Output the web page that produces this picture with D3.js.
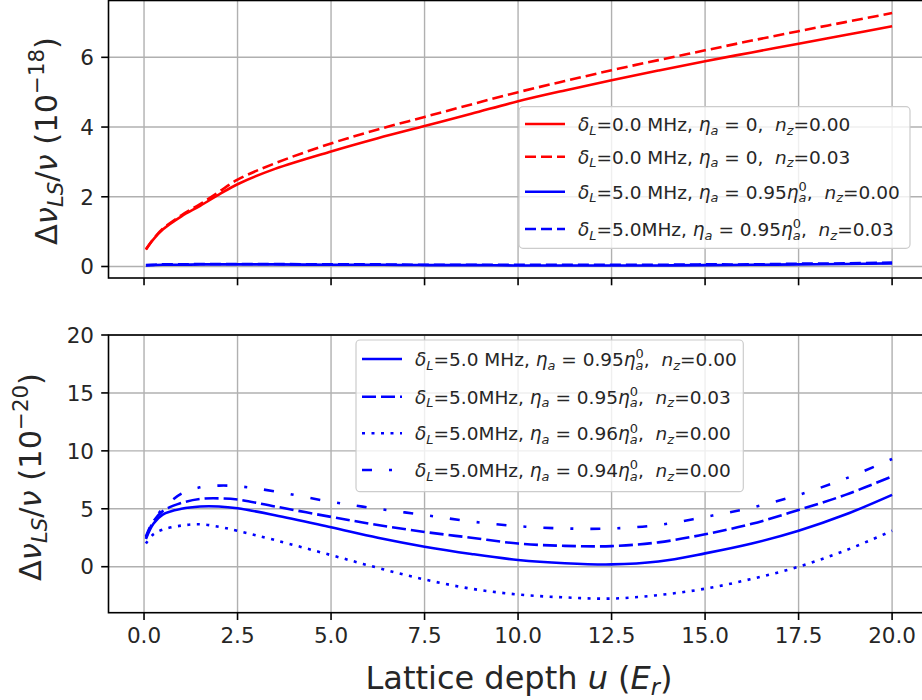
<!DOCTYPE html>
<html><head><meta charset="utf-8">
<script src="https://cdn.jsdelivr.net/npm/d3@7"></script>
<style>body{margin:0;background:#fff;} svg{display:block;font-family:"DejaVu Sans",sans-serif;} text{white-space:pre;}</style>
</head><body><svg id="c" width="922" height="700"></svg>
<script>
// ---- data ----
const uValues = [0.05,0.25,0.5,1,1.5,2,2.5,3.5,5,6.25,7.5,8.75,10,11.25,12.5,13.75,15,16.25,17.5,18.75,20];
// top panel (units 1e-18)
const redSolid  = [0.49,0.78,1.06,1.44,1.74,2.06,2.36,2.80,3.30,3.68,4.03,4.38,4.74,5.05,5.34,5.62,5.89,6.14,6.39,6.64,6.89];
const redDashed = [0.49,0.79,1.08,1.47,1.79,2.14,2.49,2.96,3.53,3.93,4.29,4.65,5.00,5.32,5.63,5.92,6.20,6.48,6.75,7.01,7.27];
const blueSolidTop  = [0.03,0.04,0.05,0.05,0.06,0.06,0.06,0.06,0.05,0.05,0.04,0.04,0.03,0.03,0.03,0.03,0.04,0.05,0.06,0.07,0.09];
const blueDashedTop = [0.04,0.05,0.06,0.06,0.07,0.07,0.07,0.07,0.06,0.06,0.05,0.05,0.05,0.05,0.05,0.05,0.06,0.06,0.08,0.09,0.11];
// bottom panel (units 1e-20)
const b095_nz000 = [2.4,3.7,4.5,5.0,5.2,5.2,5.04,4.45,3.4,2.5,1.73,1.1,0.58,0.3,0.2,0.45,1.15,2.0,3.1,4.5,6.2];
const b095_nz003 = [2.5,3.9,4.8,5.5,5.85,5.9,5.8,5.2,4.3,3.6,3.0,2.5,2.0,1.8,1.78,2.1,2.8,3.7,4.9,6.2,7.8];
const b096_nz000 = [2.0,2.8,3.2,3.55,3.66,3.45,3.1,2.3,1.0,-0.1,-1.1,-1.9,-2.4,-2.65,-2.75,-2.45,-1.9,-1.05,0.0,1.4,3.1];
const b094_nz000 = [2.6,4.0,5.0,6.3,6.85,7.0,6.95,6.5,5.6,5.0,4.46,3.9,3.5,3.3,3.3,3.6,4.3,5.1,6.2,7.6,9.3];
const xTicks = [0,2.5,5,7.5,10,12.5,15,17.5,20];
const xTickLabels = ["0.0","2.5","5.0","7.5","10.0","12.5","15.0","17.5","20.0"];
const yTicksTop = [0,2,4,6];
const yTicksBottom = [0,5,10,15,20];
const topLabels = [
  "$δ_L$=0.0 MHz, $η_a$ = 0,  $n_z$=0.00",
  "$δ_L$=0.0 MHz, $η_a$ = 0,  $n_z$=0.03",
  "$δ_L$=5.0 MHz, $η_a$ = 0.95$η_a^0$,  $n_z$=0.00",
  "$δ_L$=5.0MHz, $η_a$ = 0.95$η_a^0$,  $n_z$=0.03"
];
const bottomLabels = [
  "$δ_L$=5.0 MHz, $η_a$ = 0.95$η_a^0$,  $n_z$=0.00",
  "$δ_L$=5.0MHz, $η_a$ = 0.95$η_a^0$,  $n_z$=0.03",
  "$δ_L$=5.0MHz, $η_a$ = 0.96$η_a^0$,  $n_z$=0.00",
  "$δ_L$=5.0MHz, $η_a$ = 0.94$η_a^0$,  $n_z$=0.00"
];

// ---- layout ----
const svg = d3.select("#c");
const x = d3.scaleLinear().domain([-0.95, 21]).range([108.5, 929.5]);
const yTop = d3.scaleLinear().domain([-0.33, 7.63]).range([278, 0.5]);
const yBot = d3.scaleLinear().domain([-3.97, 20]).range([612.7, 335]);
const RED = "#ff0000", BLUE = "#0000ff", LW = 2.6;
const TICK_FS = 21.5, LEG_FS = 18.5, XLAB_FS = 32, YLAB_FS = 30.5;

// rich text parser: $...$ math mode, _ sub, ^ sup
function rich(sel, str, fs){
  const parts = [];
  let math = false;
  for (let i=0;i<str.length;i++){
    const c = str[i];
    if (c === "$"){ math = !math; continue; }
    if (math && (c === "_" || c === "^")){
      let g = "";
      if (str[i+1] === "{"){ let j=i+2; while(str[j]!=="}"){g+=str[j];j++;} i=j; }
      else { g = str[i+1]; i++; }
      parts.push({t:g, s: c==="_"?"sub":"sup", i:/[A-Za-z]/.test(g)});
      continue;
    }
    const it = math && /[A-Za-zα-ω]/.test(c);
    const last = parts[parts.length-1];
    if (last && !last.s && last.i === it) last.t += c;
    else parts.push({t:c, i:it});
  }
  let cur = 0, prev = null, prevS = null;
  parts.forEach(p=>{
    const target = p.s==="sub" ? fs*0.2 : p.s==="sup" ? -fs*0.42 : 0;
    const ts = sel.append("tspan").text(p.t).attr("dy", target-cur);
    cur = target;
    if (p.s) ts.attr("font-size", fs*0.7);
    if (p.i) ts.attr("font-style","italic");
    if (p.s==="sup" && prevS==="sub" && prev){
      ts.attr("dx", -prev.node().getComputedTextLength());
    }
    prev = ts; prevS = p.s || null;
  });
}

function panel(y, yTicks, clipId){
  const g = svg.append("g");
  const x0 = x(-0.95), x1 = x(21), yb = y.range()[0], yt = y.range()[1];
  g.selectAll(".gx").data(xTicks).join("line")
    .attr("x1", d=>x(d)).attr("x2", d=>x(d)).attr("y1", yt).attr("y2", yb)
    .attr("stroke","#b0b0b0").attr("stroke-width",1.4);
  g.selectAll(".gy").data(yTicks).join("line")
    .attr("x1", x0).attr("x2", x1).attr("y1", d=>y(d)).attr("y2", d=>y(d))
    .attr("stroke","#b0b0b0").attr("stroke-width",1.4);
  svg.append("clipPath").attr("id", clipId).append("rect")
    .attr("x", x0).attr("y", yt).attr("width", x1-x0).attr("height", yb-yt);
  return {g, x0, x1, yb, yt};
}

function frame(p, y, yTicks, showXLabels){
  const g = svg.append("g");
  g.append("rect").attr("x", p.x0).attr("y", p.yt).attr("width", p.x1-p.x0).attr("height", p.yb-p.yt)
    .attr("fill","none").attr("stroke","#000").attr("stroke-width",1.6);
  g.selectAll(".tx").data(xTicks).join("line")
    .attr("x1", d=>x(d)).attr("x2", d=>x(d)).attr("y1", p.yb).attr("y2", p.yb+7.3)
    .attr("stroke","#000").attr("stroke-width",1.6);
  g.selectAll(".ty").data(yTicks).join("line")
    .attr("x1", p.x0-7.3).attr("x2", p.x0).attr("y1", d=>y(d)).attr("y2", d=>y(d))
    .attr("stroke","#000").attr("stroke-width",1.6);
  g.selectAll(".ly").data(yTicks).join("text")
    .attr("x", p.x0-14.5).attr("y", d=>y(d)).attr("dy","0.36em")
    .attr("text-anchor","end").attr("font-size",TICK_FS).attr("fill","#262626").text(d=>d);
  if (showXLabels){
    g.selectAll(".lx").data(xTicks).join("text")
      .attr("x", d=>x(d)).attr("y", p.yb+30.5)
      .attr("text-anchor","middle").attr("font-size",TICK_FS).attr("fill","#262626")
      .text((d,i)=>xTickLabels[i]);
  }
}

function curve(clipId, ys, y, color, dash){
  const line = d3.line().x((d,i)=>x(uValues[i])).y(d=>y(d)).curve(d3.curveCatmullRom.alpha(0.5));
  svg.append("path").datum(ys).attr("d", line).attr("clip-path", `url(#${clipId})`)
    .attr("fill","none").attr("stroke",color).attr("stroke-width",LW)
    .attr("stroke-dasharray", dash || null);
}

function legend(box, rows){
  const g = svg.append("g");
  g.append("rect").attr("x",box.x).attr("y",box.y).attr("width",box.w).attr("height",box.h)
    .attr("rx",4).attr("fill","#fff").attr("fill-opacity",0.8)
    .attr("stroke","#cccccc").attr("stroke-width",1.2);
  rows.forEach(r=>{
    g.append("line").attr("x1", box.x+6).attr("x2", box.x+46).attr("y1", r.y).attr("y2", r.y)
      .attr("stroke", r.color).attr("stroke-width", LW).attr("stroke-dasharray", r.dash || null);
    const t = g.append("text").attr("x", box.x+59).attr("y", r.y+7).attr("font-size",LEG_FS).attr("fill","#262626");
    rich(t, r.label, LEG_FS);
  });
}

// ---- top panel ----
const pt = panel(yTop, yTicksTop, "clipTop");
curve("clipTop", redSolid, yTop, RED);
curve("clipTop", redDashed, yTop, RED, "11,5");
curve("clipTop", blueSolidTop, yTop, BLUE);
curve("clipTop", blueDashedTop, yTop, BLUE, "11,5");
frame(pt, yTop, yTicksTop, false);
legend({x:519, y:106.7, w:391, h:141.6}, [
  {y:124, color:RED, label:topLabels[0]},
  {y:156.7, color:RED, dash:"11,5", label:topLabels[1]},
  {y:191.7, color:BLUE, label:topLabels[2]},
  {y:229, color:BLUE, dash:"11,5", label:topLabels[3]}
]);

// ---- bottom panel ----
const pb = panel(yBot, yTicksBottom, "clipBot");
curve("clipBot", b095_nz000, yBot, BLUE);
curve("clipBot", b095_nz003, yBot, BLUE, "14,5");
curve("clipBot", b096_nz000, yBot, BLUE, "3,6.5");
curve("clipBot", b094_nz000, yBot, BLUE, "10,17,3,17");
frame(pb, yBot, yTicksBottom, true);
legend({x:356, y:340, w:387.3, h:151.7}, [
  {y:359, color:BLUE, label:bottomLabels[0]},
  {y:396.7, color:BLUE, dash:"14,5", label:bottomLabels[1]},
  {y:433.3, color:BLUE, dash:"3,6.5", label:bottomLabels[2]},
  {y:470, color:BLUE, dash:"10,17,3,17", label:bottomLabels[3]}
]);

// ---- axis labels ----
const ylt = svg.append("text").attr("transform","translate(57,141) rotate(-90)")
  .attr("text-anchor","middle").attr("font-size",YLAB_FS).attr("fill","#262626");
rich(ylt, "$Δν_{LS}/ν$ ($10^{−18}$)", YLAB_FS);
const ylb = svg.append("text").attr("transform","translate(41,477) rotate(-90)")
  .attr("text-anchor","middle").attr("font-size",YLAB_FS).attr("fill","#262626");
rich(ylb, "$Δν_{LS}/ν$ ($10^{−20}$)", YLAB_FS);
const xl = svg.append("text").attr("x", 519).attr("y", 689)
  .attr("text-anchor","middle").attr("font-size",XLAB_FS).attr("fill","#262626");
rich(xl, "Lattice depth $u$ ($E_r$)", XLAB_FS);
</script></body></html>
